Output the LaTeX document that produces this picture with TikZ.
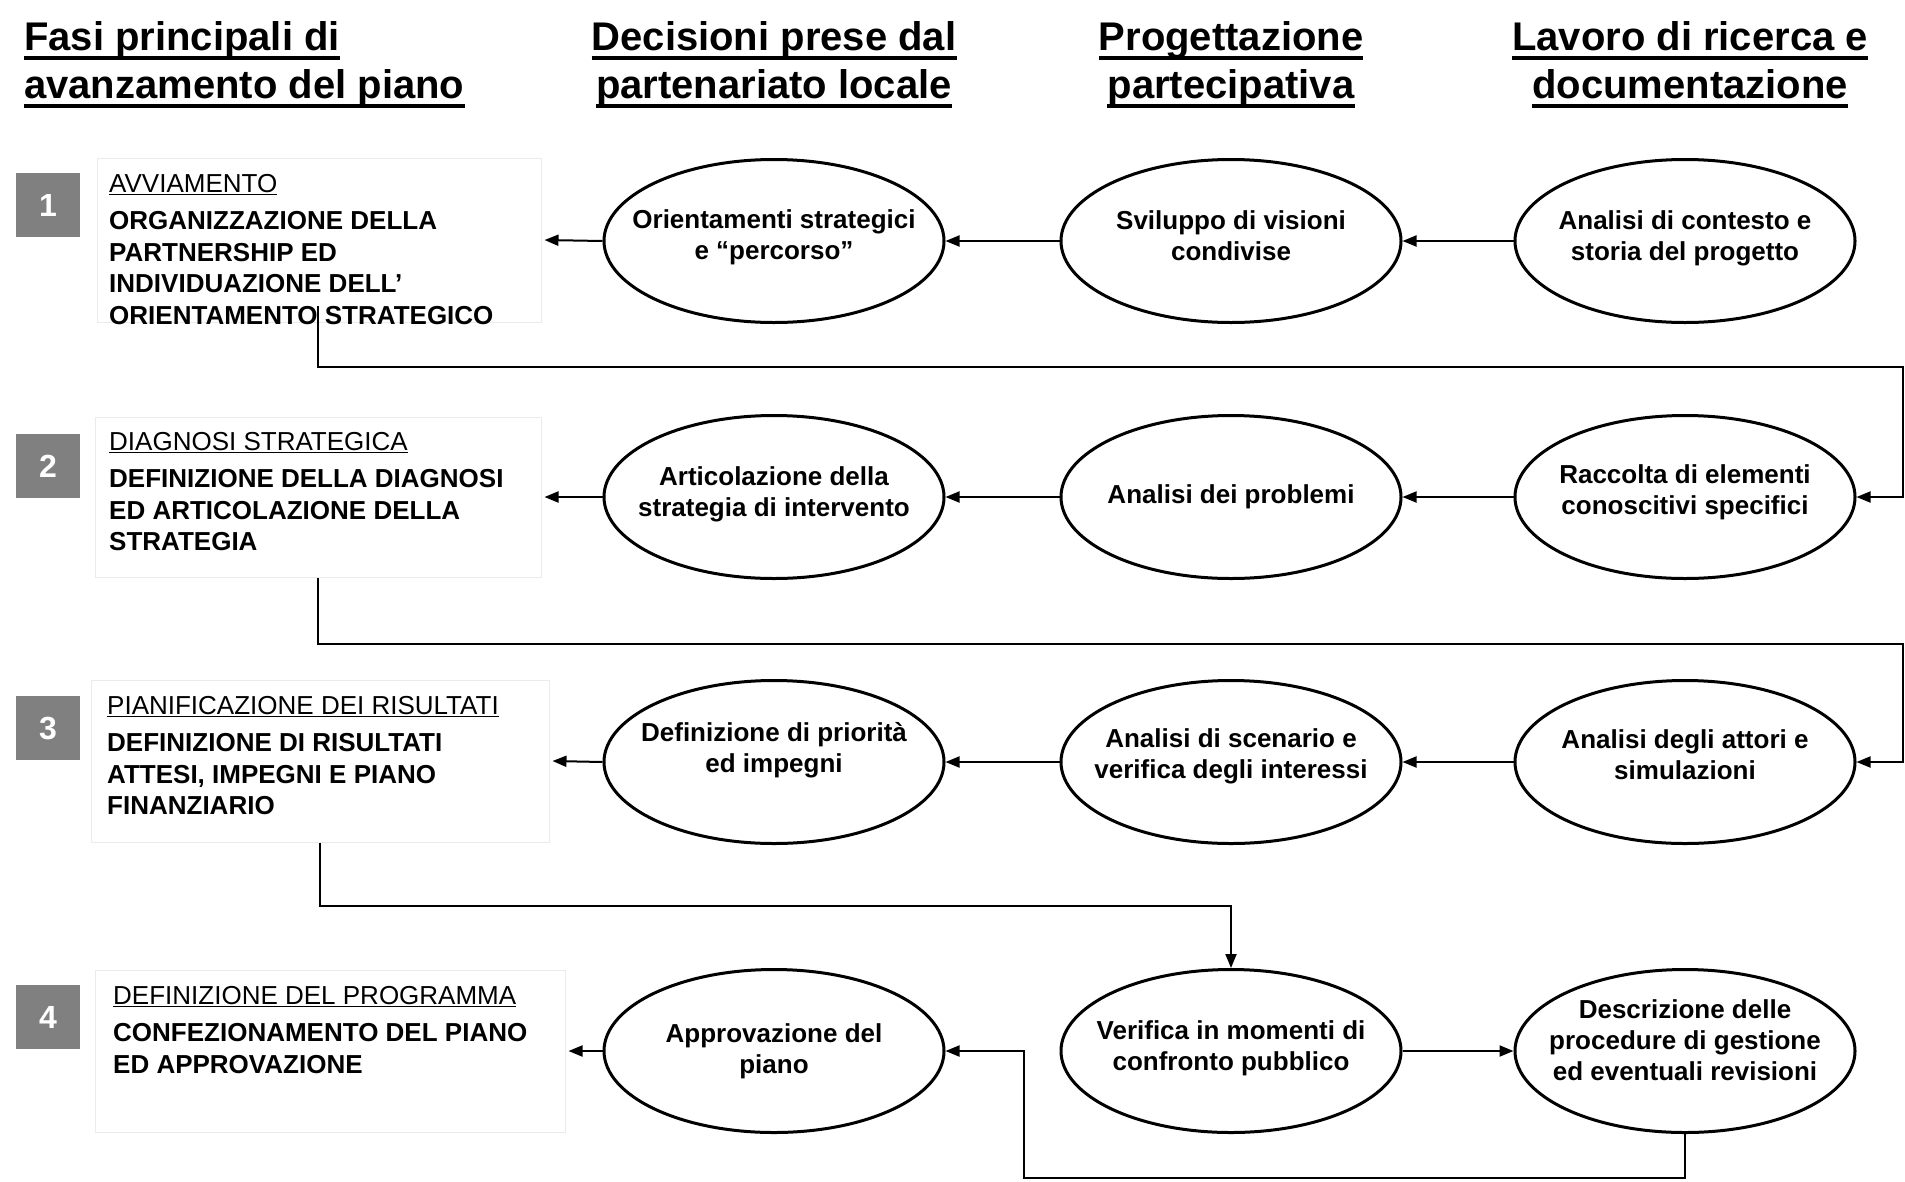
\documentclass[tikz,border=0pt]{standalone}
\usepackage{fontspec}
\setmainfont{Liberation Sans}
\usetikzlibrary{shapes.geometric,arrows.meta}
\definecolor{numgray}{RGB}{128,128,128}
\begin{document}
\begin{tikzpicture}[x=1pt,y=-1pt,
  ell/.style={ellipse,draw,line width=3pt,minimum width=340pt,minimum height=163pt,inner xsep=-70pt,inner ysep=-40pt,align=center,font=\fontsize{26}{31}\selectfont\bfseries},
  phasebox/.style={rectangle,draw=black!8,line width=1pt,inner sep=0pt},
  phasetxt/.style={anchor=north west,inner sep=0pt,align=left,font=\fontsize{26}{31.5}\selectfont\bfseries},
  numbox/.style={rectangle,fill=numgray,minimum size=64pt,inner sep=0pt,text=white,font=\fontsize{32}{32}\selectfont\bfseries},
  head/.style={inner sep=0pt,font=\fontsize{40}{48}\selectfont\bfseries},
  ul/.style={line width=3.5pt},
  arr/.style={line width=2pt,-{Triangle[length=14pt,width=11pt]}}]
\useasboundingbox[fill=white] (0,0) rectangle (1905,1181);

% headings
\node[head,anchor=base west] (h1a) at (24,50) {Fasi principali di};
\node[head,anchor=base west] (h1b) at (24,98) {avanzamento del piano};
\node[head,anchor=base] (h2a) at (774,50) {Decisioni prese dal};
\node[head,anchor=base] (h2b) at (774,98) {partenariato locale};
\node[head,anchor=base] (h3a) at (1231,50) {Progettazione};
\node[head,anchor=base] (h3b) at (1231,98) {partecipativa};
\node[head,anchor=base] (h4a) at (1690,50) {Lavoro di ricerca e};
\node[head,anchor=base] (h4b) at (1690,98) {documentazione};
\foreach \n in {h1a,h1b,h2a,h2b,h3a,h3b,h4a,h4b}
  \draw[ul] ([yshift=-8pt]\n.base west) -- ([yshift=-8pt]\n.base east);

% phase boxes
\node[phasebox,minimum width=444pt,minimum height=164pt] (b1) at (319,240) {};
\node[phasebox,minimum width=446pt,minimum height=160pt] (b2) at (318,497) {};
\node[phasebox,minimum width=458pt,minimum height=162pt] (b3) at (320,761) {};
\node[phasebox,minimum width=470pt,minimum height=162pt] (b4) at (330,1051) {};

\node[phasetxt] (t1) at (109,174) {{\mdseries\underline{AVVIAMENTO}}\\[6pt]ORGANIZZAZIONE DELLA\\PARTNERSHIP ED\\INDIVIDUAZIONE DELL’\\ORIENTAMENTO STRATEGICO};
\node[phasetxt] (t2) at (109,432) {{\mdseries\underline{DIAGNOSI STRATEGICA}}\\[6pt]DEFINIZIONE DELLA DIAGNOSI\\ED ARTICOLAZIONE DELLA\\STRATEGIA};
\node[phasetxt] (t3) at (107,696) {{\mdseries\underline{PIANIFICAZIONE DEI RISULTATI}}\\[6pt]DEFINIZIONE DI RISULTATI\\ATTESI, IMPEGNI E PIANO\\FINANZIARIO};
\node[phasetxt] (t4) at (113,986) {{\mdseries\underline{DEFINIZIONE DEL PROGRAMMA}}\\[6pt]CONFEZIONAMENTO DEL PIANO\\ED APPROVAZIONE};

% number squares
\node[numbox] (n1) at (48,205) {1};
\node[numbox] (n2) at (48,466) {2};
\node[numbox] (n3) at (48,728) {3};
\node[numbox] (n4) at (48,1017) {4};

% ellipses
\node[ell,text depth=12.5pt] (e12) at (774,241) {Orientamenti strategici\\e “percorso”};
\node[ell,text depth=11pt] (e13) at (1231,241) {Sviluppo di visioni\\condivise};
\node[ell,text depth=10.5pt] (e14) at (1685,241) {Analisi di contesto e\\storia del progetto};
\node[ell,text depth=10.5pt] (e22) at (774,497) {Articolazione della\\strategia di intervento};
\node[ell] (e23) at (1231,497) {Analisi dei problemi};
\node[ell,text depth=14pt] (e24) at (1685,497) {Raccolta di elementi\\conoscitivi specifici};
\node[ell,text depth=30pt] (e32) at (774,762) {Definizione di priorità\\ed impegni};
\node[ell,text depth=16.5pt] (e33) at (1231,762) {Analisi di scenario e\\verifica degli interessi};
\node[ell,text depth=14.5pt] (e34) at (1685,762) {Analisi degli attori e\\simulazioni};
\node[ell] (e42) at (774,1051) {Approvazione del\\piano};
\node[ell,text depth=10pt] (e43) at (1231,1051) {Verifica in momenti di\\confronto pubblico};
\node[ell,text depth=22pt] (e44) at (1685,1051) {Descrizione delle\\procedure di gestione\\ed eventuali revisioni};

% row arrows
\draw[arr] (e14.west) -- (e13.east);
\draw[arr] (e13.west) -- (e12.east);
\draw[arr] (e12.west) -- ([xshift=3pt]b1.east);
\draw[arr] (e24.west) -- (e23.east);
\draw[arr] (e23.west) -- (e22.east);
\draw[arr] (e22.west) -- ([xshift=3pt]b2.east);
\draw[arr] (e34.west) -- (e33.east);
\draw[arr] (e33.west) -- (e32.east);
\draw[arr] (e32.west) -- ([xshift=3pt]b3.east);
\draw[arr] (e43.east) -- (e44.west);
\draw[arr] (e42.west) -- ([xshift=3pt]b4.east);

% phase connectors
\coordinate (c1) at (318,306);
\draw[arr] (c1) |- (1903,367) |- (e24.east);
\draw[arr] (b2.south) |- (1903,644) |- (e34.east);
\draw[arr] (b3.south) -- ++(0,63) -| (e43.north);
\draw[arr] (e44.south) |- (1024,1178) |- (e42.east);
\end{tikzpicture}
\end{document}
